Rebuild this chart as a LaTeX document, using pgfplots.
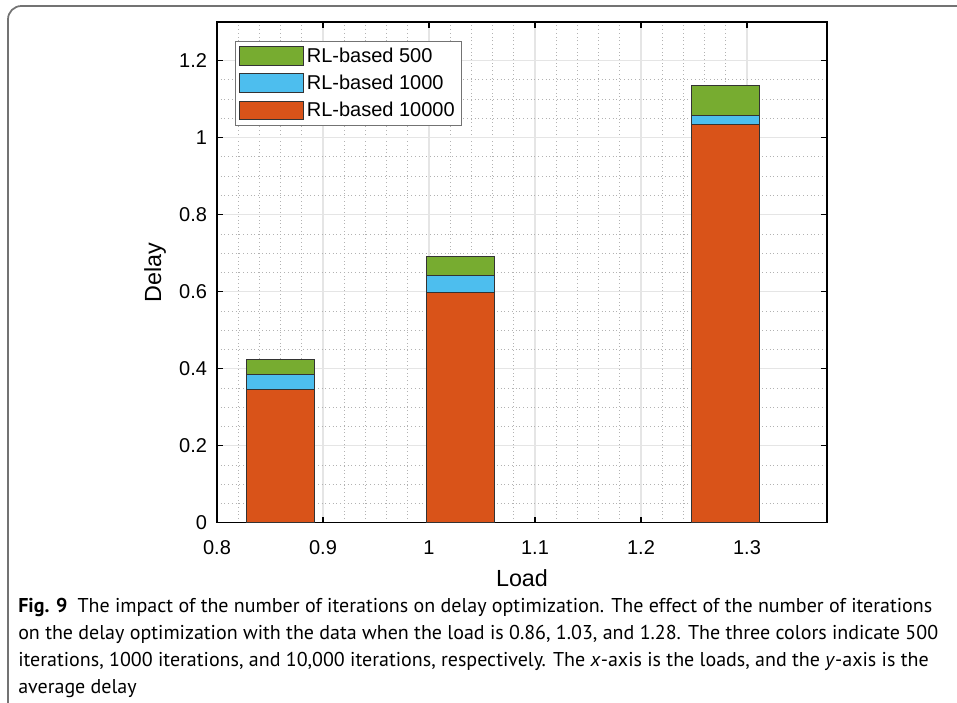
\documentclass[border=0pt]{standalone}
\usepackage{pgfplots}
\pgfplotsset{compat=1.18}
\usepackage{fontspec}
\setmainfont{Liberation Sans}
\newfontfamily\capfont{PT Sans}
\definecolor{mgreen}{RGB}{119,172,48}
\definecolor{mblue}{RGB}{77,190,238}
\definecolor{mred}{RGB}{217,83,25}
\begin{document}
\begin{tikzpicture}[x=0.75pt,y=0.75pt]
\path[use as bounding box] (0,0) rectangle (957,-703);
\draw[color=black!55, line width=1.3pt, rounded corners=10pt] (8,-710) -- (8,-6) -- (965,-6);
\begin{axis}[
  at={(162.75pt,-392.025pt)}, anchor=south west,
  scale only axis, width=457.5pt, height=375.5pt,
  xmin=0.8, xmax=1.3755, ymin=0, ymax=1.3,
  xtick={0.8,0.9,1,1.1,1.2,1.3},
  ytick={0,0.2,0.4,0.6,0.8,1,1.2},
  minor x tick num=4, minor y tick num=3,
  grid=both,
  major grid style={color=black!10, line width=0.8pt},
  minor grid style={color=black!30, dash pattern=on 0.6pt off 2.2pt, line width=0.5pt},
  minor tick length=0pt, major tick length=4.5pt,
  tick align=inside, tick pos=both,
  every tick/.style={black, line width=0.9pt},
  axis line style={black, line width=1.1pt},
  /pgf/number format/assume math mode=true,
  tick label style={font=\fontsize{15}{18}\selectfont},
  xticklabel style={yshift=-10pt},
  yticklabel style={xshift=-4pt},
  xlabel={Load}, ylabel={Delay},
  label style={font=\fontsize{17.5}{21}\selectfont},
  xlabel style={yshift=-4pt},
  ylabel style={yshift=3pt},
  legend cell align=left,
  legend style={at={(0.0295,0.9627)}, anchor=north west, draw=black!55, line width=0.6pt,
    font=\fontsize{15}{18}\selectfont, inner xsep=3pt, inner ysep=3pt, row sep=4pt},
  legend image code/.code={\draw[#1, line width=0.6pt] (0pt,-7pt) rectangle (48pt,7pt);},
]
\addplot[ybar, bar width=0.064, bar shift=0pt, fill=mgreen, draw=black!80, line width=0.8pt]
  coordinates {(0.86,0.423) (1.03,0.691) (1.28,1.135)};
\addlegendentry{RL-based 500}
\addplot[ybar, bar width=0.064, bar shift=0pt, fill=mblue, draw=black!80, line width=0.8pt]
  coordinates {(0.86,0.384) (1.03,0.642) (1.28,1.057)};
\addlegendentry{RL-based 1000}
\addplot[ybar, bar width=0.064, bar shift=0pt, fill=mred, draw=black!80, line width=0.8pt]
  coordinates {(0.86,0.345) (1.03,0.597) (1.28,1.033)};
\addlegendentry{RL-based 10000}
\end{axis}
\begin{scope}[every node/.style={anchor=base west, inner sep=0pt, font=\capfont\fontsize{15}{18}\selectfont}]
\node at (18,-612) {\textbf{Fig. 9}\enspace The impact of the number of iterations on delay optimization. The effect of the number of iterations};
\node at (18,-639) {on the delay optimization with the data when the load is 0.86, 1.03, and 1.28. The three colors indicate 500};
\node at (18,-666) {iterations, 1000 iterations, and 10,000 iterations, respectively. The \textit{x}-axis is the loads, and the \textit{y}-axis is the};
\node at (18,-693) {average delay};
\end{scope}
\end{tikzpicture}
\end{document}
